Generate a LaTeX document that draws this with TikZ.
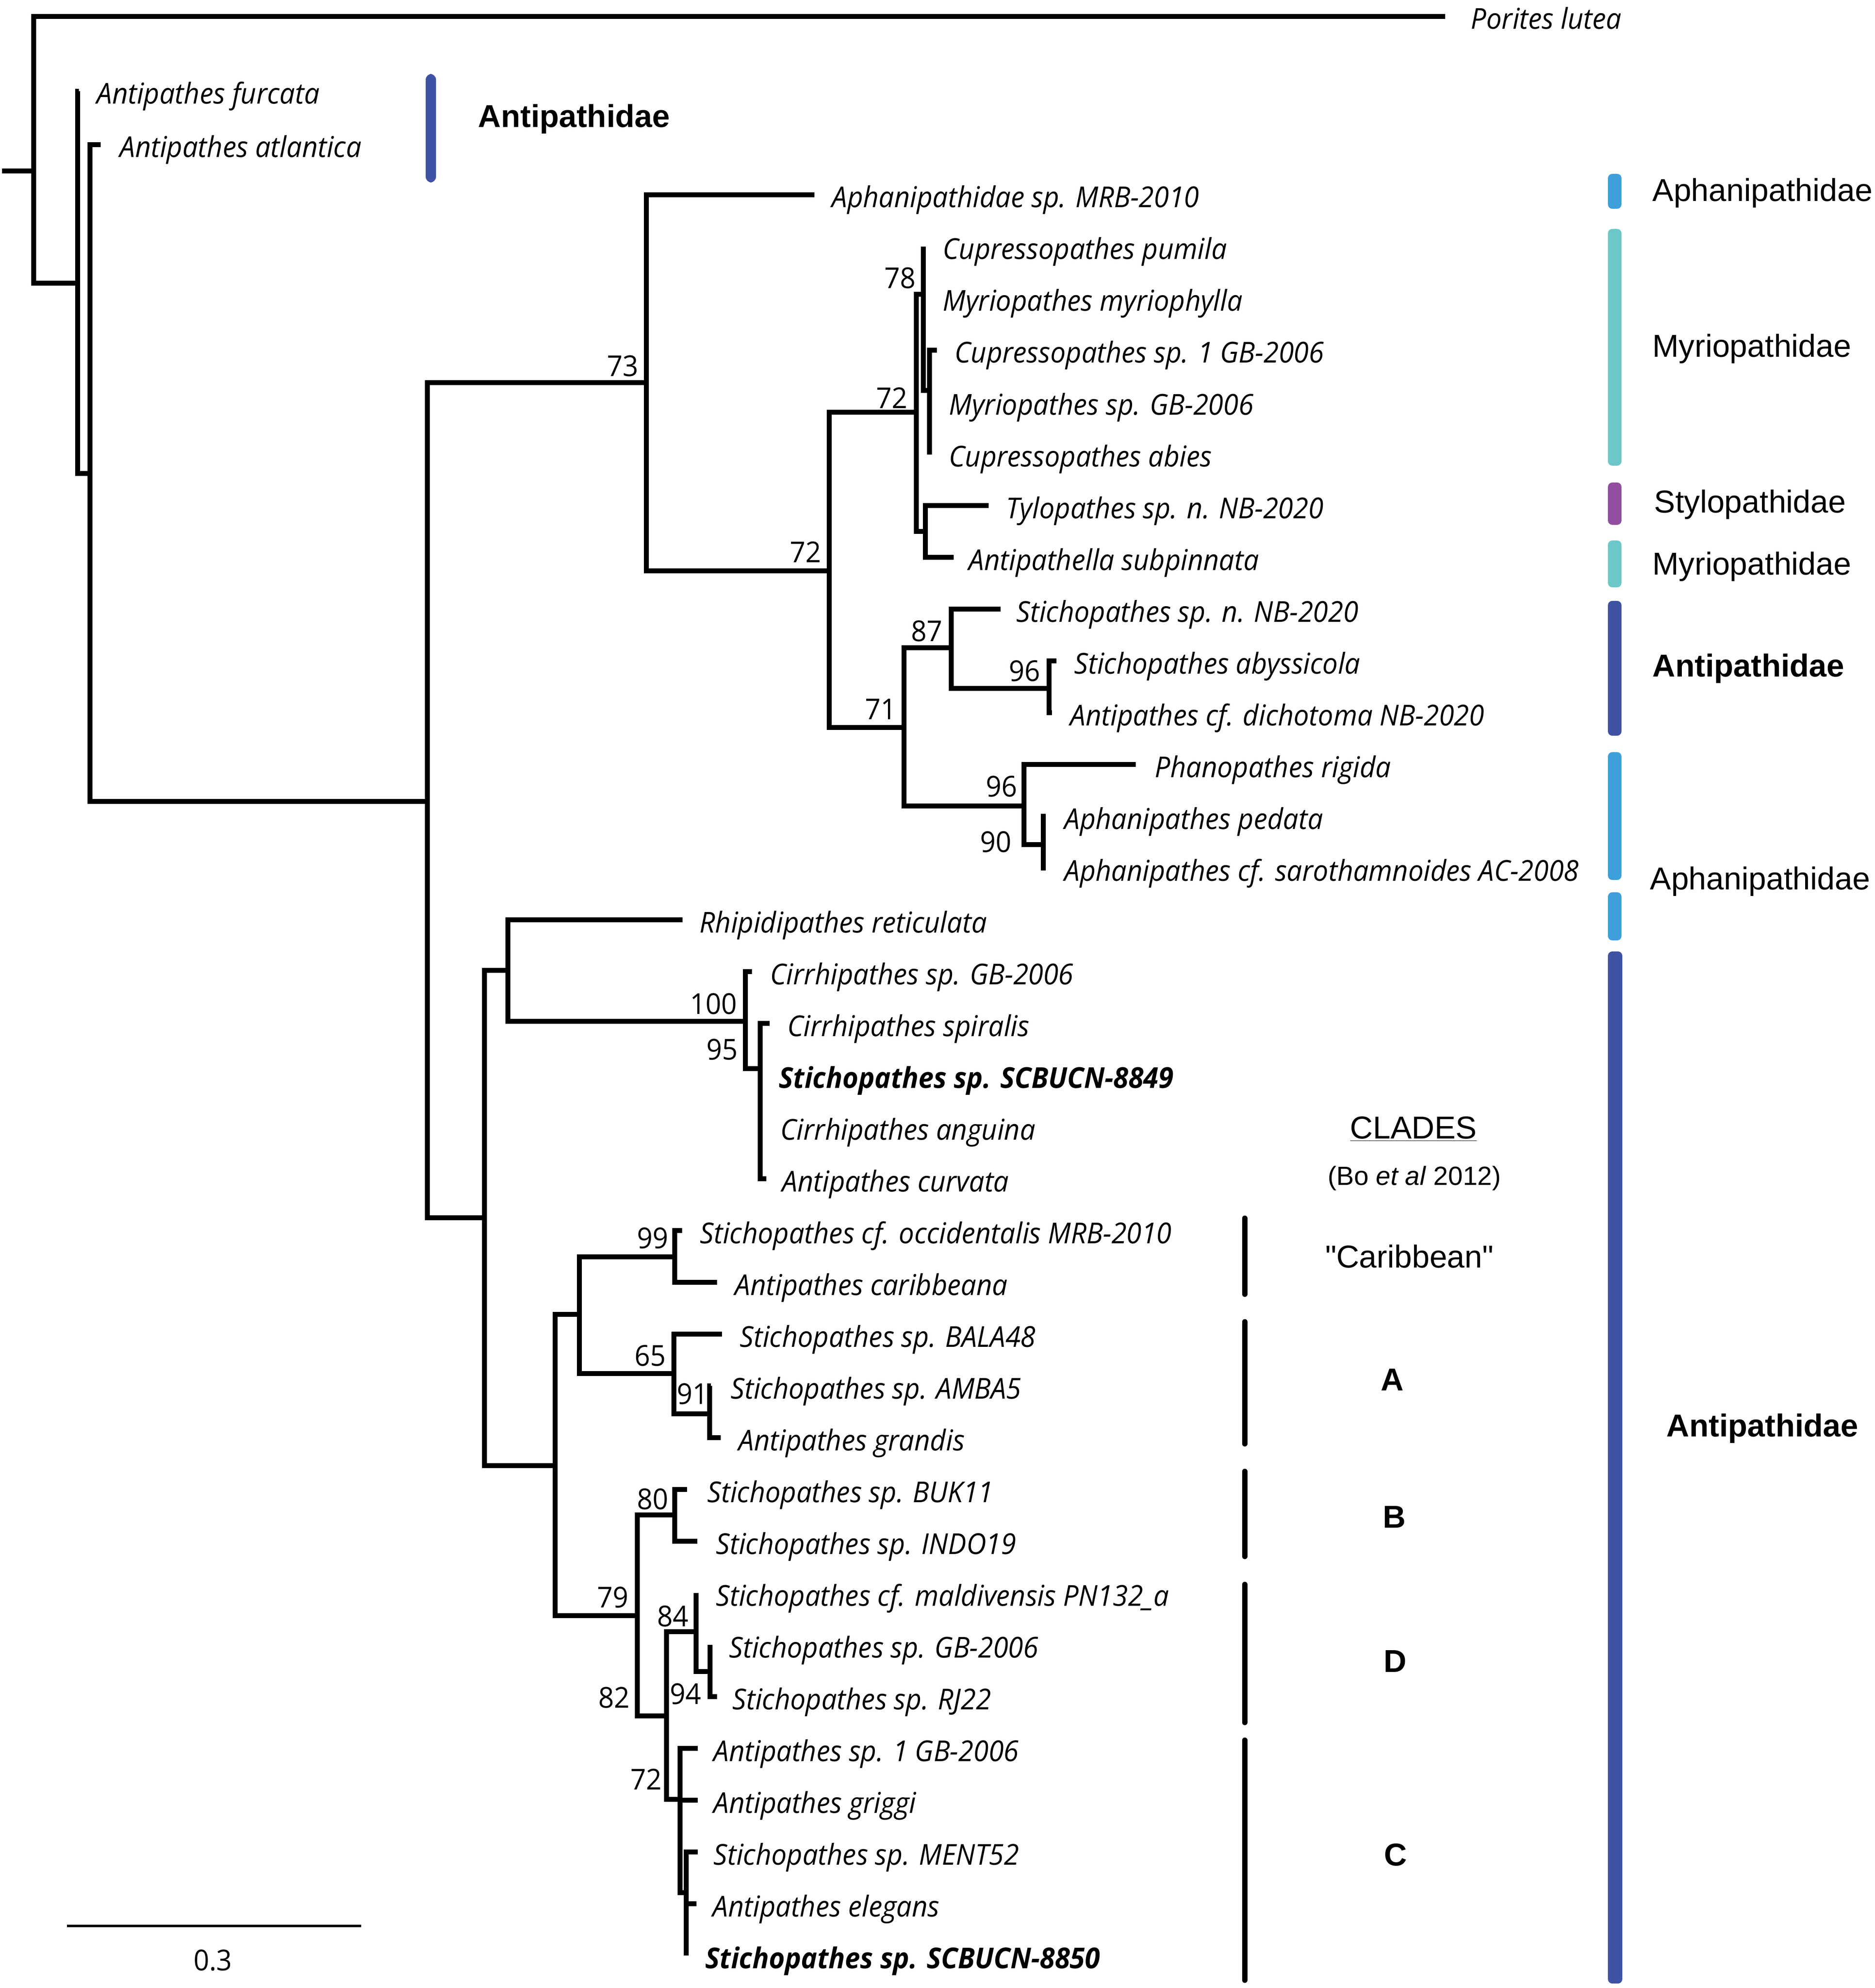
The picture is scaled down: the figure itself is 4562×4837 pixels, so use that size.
\documentclass[tikz,border=0pt]{standalone}
\usepackage{fontspec}
\setmainfont{Liberation Sans}
\newfontfamily\taxf[FakeStretch=0.95]{Open Sans}
\newfontfamily\qfont[Ligatures=TeXOff]{Liberation Sans}
\definecolor{dblue}{HTML}{3F52A3}
\definecolor{lblue}{HTML}{3E9FDA}
\definecolor{tealb}{HTML}{6CC8C8}
\definecolor{purp}{HTML}{914FA0}
\newcommand\el[2]{\draw[br] (#1) |- (#2);}
\tikzset{
  br/.style={line width=3.3pt, line join=miter},
  tx/.style={anchor=base west, inner sep=0pt, font=\taxf\itshape\fontsize{19.9}{22}\selectfont},
  txb/.style={anchor=base west, inner sep=0pt, font=\taxf\bfseries\itshape\fontsize{19.9}{22}\selectfont},
  bs/.style={anchor=east, inner sep=0pt, font=\taxf\fontsize{19.9}{22}\selectfont},
  fam/.style={anchor=base west, inner sep=0pt, font=\fontsize{21.9}{24}\selectfont},
  famb/.style={anchor=base west, inner sep=0pt, font=\bfseries\fontsize{21.9}{24}\selectfont},
  cl/.style={anchor=base, inner sep=0pt, font=\bfseries\fontsize{21.9}{24}\selectfont},
  clbar/.style={line width=3.7pt, line cap=round},
}
\begin{document}
\begin{tikzpicture}[x=0.01cm, y=-0.01cm]
\useasboundingbox (0,0) rectangle (4562,4837);
% ---------- internal nodes ----------
\coordinate (stub) at (5,416);
\coordinate (R) at (82,416);
\coordinate (N1) at (189,689);
\coordinate (N2) at (219,1152);
\coordinate (N3) at (1040,1950);
\coordinate (N4) at (1573,931);
\coordinate (N5) at (2018,1389);
\coordinate (N6) at (2230,1003);
\coordinate (N7) at (2247,716);
\coordinate (N9) at (2262,950);
\coordinate (N8) at (2252,1293);
\coordinate (N10) at (2200,1770);
\coordinate (N11) at (2315,1576);
\coordinate (N12) at (2553,1675);
\coordinate (N13) at (2492,1961);
\coordinate (N14) at (2539,2055);
\coordinate (N15) at (1179,2963);
\coordinate (N16) at (1236,2361);
\coordinate (N17) at (1814,2485);
\coordinate (N18) at (1850,2600);
\coordinate (N19) at (1351,3566);
\coordinate (N20) at (1410,3198);
\coordinate (N21) at (1642,3058);
\coordinate (N22) at (1640,3342);
\coordinate (N23) at (1727,3440);
\coordinate (N24) at (1551,3931);
\coordinate (N25) at (1642,3686);
\coordinate (N26) at (1622,4175);
\coordinate (N27) at (1694,3970);
\coordinate (N28) at (1728,4067);
\coordinate (N29) at (1655,4378);
\coordinate (N30) at (1670,4605);
% ---------- tips ----------
\coordinate (tPor) at (3517,40);
\coordinate (tFur) at (192,222);
\coordinate (tAtl) at (245,352);
\coordinate (tMRB) at (1982,474);
\coordinate (tPum) at (2247,600);
\coordinate (tMyr) at (2247,726);
\coordinate (tCs1) at (2280,852);
\coordinate (tMgb) at (2262,978);
\coordinate (tAbi) at (2262,1106);
\coordinate (tTyl) at (2406,1230);
\coordinate (tAsu) at (2321,1356);
\coordinate (tSnb) at (2435,1482);
\coordinate (tAby) at (2571,1608);
\coordinate (tDic) at (2560,1734);
\coordinate (tPha) at (2764,1860);
\coordinate (tPed) at (2545,1986);
\coordinate (tSar) at (2545,2112);
\coordinate (tRhi) at (1661,2238);
\coordinate (tCgb) at (1830,2364);
\coordinate (tSpi) at (1873,2490);
\coordinate (tS49) at (1850,2616);
\coordinate (tAng) at (1850,2742);
\coordinate (tCur) at (1865,2868);
\coordinate (tOcc) at (1660,2994);
\coordinate (tCar) at (1745,3120);
\coordinate (tBal) at (1757,3246);
\coordinate (tAmb) at (1730,3372);
\coordinate (tGra) at (1754,3498);
\coordinate (tBuk) at (1672,3624);
\coordinate (tInd) at (1697,3750);
\coordinate (tMal) at (1694,3876);
\coordinate (tSgb) at (1728,4002);
\coordinate (tRj) at (1745,4128);
\coordinate (tAgb) at (1698,4254);
\coordinate (tGri) at (1698,4380);
\coordinate (tMen) at (1698,4506);
\coordinate (tEle) at (1695,4632);
\coordinate (tS50) at (1670,4758);
% ---------- branches ----------
\draw[br] (stub) -- (R);
\el{R}{tPor} \el{R}{N1}
\el{N1}{tFur} \el{N1}{N2}
\el{N2}{tAtl} \el{N2}{N3}
\el{N3}{N4} \el{N3}{N15}
\el{N4}{tMRB} \el{N4}{N5}
\el{N5}{N6} \el{N5}{N10}
\el{N6}{N7} \el{N6}{N8}
\el{N7}{tPum} \el{N7}{tMyr} \el{N7}{N9}
\el{N9}{tCs1} \el{N9}{tMgb} \el{N9}{tAbi}
\el{N8}{tTyl} \el{N8}{tAsu}
\el{N10}{N11} \el{N10}{N13}
\el{N11}{tSnb} \el{N11}{N12}
\el{N12}{tAby} \el{N12}{tDic}
\el{N13}{tPha} \el{N13}{N14}
\el{N14}{tPed} \el{N14}{tSar}
\el{N15}{N16} \el{N15}{N19}
\el{N16}{tRhi} \el{N16}{N17}
\el{N17}{tCgb} \el{N17}{N18}
\el{N18}{tSpi} \el{N18}{tS49} \el{N18}{tAng} \el{N18}{tCur}
\el{N19}{N20} \el{N19}{N24}
\el{N20}{N21} \el{N20}{N22}
\el{N21}{tOcc} \el{N21}{tCar}
\el{N22}{tBal} \el{N22}{N23}
\el{N23}{tAmb} \el{N23}{tGra}
\el{N24}{N25} \el{N24}{N26}
\el{N25}{tBuk} \el{N25}{tInd}
\el{N26}{N27} \el{N26}{N29}
\el{N27}{tMal} \el{N27}{N28}
\el{N28}{tSgb} \el{N28}{tRj}
\el{N29}{tAgb} \el{N29}{tGri} \el{N29}{N30}
\el{N30}{tMen} \el{N30}{tEle} \el{N30}{tS50}
% ---------- taxon labels ----------
\node[tx] (lPor) at (3579,71) {Porites lutea};
\node[tx] (lFur) at (235,253) {Antipathes furcata};
\node[tx] (lAtl) at (291,383) {Antipathes atlantica};
\node[tx] (lMRB) at (2024,505) {Aphanipathidae sp. MRB-2010};
\node[tx] (lPum) at (2294,631) {Cupressopathes pumila};
\node[tx] (lMyr) at (2294,757) {Myriopathes myriophylla};
\node[tx] (lCs1) at (2323,883) {Cupressopathes sp. 1 GB-2006};
\node[tx] (lMgb) at (2309,1009) {Myriopathes sp. GB-2006};
\node[tx] (lAbi) at (2309,1135) {Cupressopathes abies};
\node[tx] (lTyl) at (2448,1261) {Tylopathes sp. n. NB-2020};
\node[tx] (lAsu) at (2357,1387) {Antipathella subpinnata};
\node[tx] (lSnb) at (2473,1513) {Stichopathes sp. n. NB-2020};
\node[tx] (lAby) at (2614,1639) {Stichopathes abyssicola};
\node[tx] (lDic) at (2604,1765) {Antipathes cf. dichotoma NB-2020};
\node[tx] (lPha) at (2810,1891) {Phanopathes rigida};
\node[tx] (lPed) at (2590,2017) {Aphanipathes pedata};
\node[tx] (lSar) at (2590,2143) {Aphanipathes cf. sarothamnoides AC-2008};
\node[tx] (lRhi) at (1702,2269) {Rhipidipathes reticulata};
\node[tx] (lCgb) at (1874,2395) {Cirrhipathes sp. GB-2006};
\node[tx] (lSpi) at (1916,2521) {Cirrhipathes spiralis};
\node[txb] (lS49) at (1895,2647) {Stichopathes sp. SCBUCN-8849};
\node[tx] (lAng) at (1899,2773) {Cirrhipathes anguina};
\node[tx] (lCur) at (1903,2899) {Antipathes curvata};
\node[tx] (lOcc) at (1703,3025) {Stichopathes cf. occidentalis MRB-2010};
\node[tx] (lCar) at (1788,3151) {Antipathes caribbeana};
\node[tx] (lBal) at (1800,3277) {Stichopathes sp. BALA48};
\node[tx] (lAmb) at (1778,3403) {Stichopathes sp. AMBA5};
\node[tx] (lGra) at (1797,3529) {Antipathes grandis};
\node[tx] (lBuk) at (1721,3655) {Stichopathes sp. BUK11};
\node[tx] (lInd) at (1742,3781) {Stichopathes sp. INDO19};
\node[tx] (lMal) at (1742,3907) {Stichopathes cf. maldivensis PN132\_a};
\node[tx] (lSgb) at (1774,4033) {Stichopathes sp. GB-2006};
\node[tx] (lRj) at (1782,4159) {Stichopathes sp. RJ22};
\node[tx] (lAgb) at (1736,4285) {Antipathes sp. 1 GB-2006};
\node[tx] (lGri) at (1736,4411) {Antipathes griggi};
\node[tx] (lMen) at (1736,4537) {Stichopathes sp. MENT52};
\node[tx] (lEle) at (1734,4663) {Antipathes elegans};
\node[txb] (lS50) at (1716,4789) {Stichopathes sp. SCBUCN-8850};
% ---------- support values ----------
\node[bs] (b73) at (1554,891) {73};
\node[bs] (b72a) at (2209,968) {72};
\node[bs] (b72b) at (1999,1343) {72};
\node[bs] (b78) at (2229,677) {78};
\node[bs] (b87) at (2294,1535) {87};
\node[bs] (b96a) at (2532,1632) {96};
\node[bs] (b71) at (2182,1726) {71};
\node[bs] (b96b) at (2476,1913) {96};
\node[bs] (b90) at (2462,2048) {90};
\node[bs] (b100) at (1794,2442) {100};
\node[bs] (b95) at (1796,2553) {95};
\node[bs] (b99) at (1627,3012) {99};
\node[bs] (b65) at (1621,3298) {65};
\node[bs] (b91) at (1724,3391) {91};
\node[bs] (b80) at (1627,3647) {80};
\node[bs] (b79) at (1530,3886) {79};
\node[bs] (b84) at (1676,3932) {84};
\node[bs] (b94) at (1707,4121) {94};
\node[bs] (b82) at (1533,4130) {82};
\node[bs] (b72c) at (1611,4329) {72};
% ---------- family bars ----------
\fill[dblue, rounded corners=4] (1036,180) rectangle (1061,444);
\fill[lblue, rounded corners=3] (3913,423) rectangle (3946,508);
\fill[tealb, rounded corners=3] (3913,557) rectangle (3946,1133);
\fill[purp, rounded corners=3] (3913,1174) rectangle (3946,1277);
\fill[tealb, rounded corners=3] (3913,1315) rectangle (3946,1429);
\fill[dblue, rounded corners=3] (3913,1462) rectangle (3946,1790);
\fill[lblue, rounded corners=3] (3913,1830) rectangle (3946,2141);
\fill[lblue, rounded corners=3] (3913,2171) rectangle (3946,2288);
\fill[dblue, rounded corners=3] (3913,2315) rectangle (3948,4826);
% ---------- family labels ----------
\node[famb] (fAnt0) at (1163,310) {Antipathidae};
\node[fam] (fAph1) at (4021,490) {Aphanipathidae};
\node[fam] (fMyr1) at (4021,869) {Myriopathidae};
\node[fam] (fSty) at (4025,1247) {Stylopathidae};
\node[fam] (fMyr2) at (4021,1398) {Myriopathidae};
\node[famb] (fAnt1) at (4021,1646) {Antipathidae};
\node[fam] (fAph2) at (4015,2164) {Aphanipathidae};
\node[famb] (fAnt2) at (4055,3495) {Antipathidae};
% ---------- clades ----------
\node[anchor=base, inner sep=0pt, font=\fontsize{21.9}{24}\selectfont] (cT) at (3440,2770) {\underline{CLADES}};
\node[anchor=base, inner sep=0pt, font=\fontsize{18.2}{20}\selectfont] (cR) at (3442,2883) {(Bo \textit{et al} 2012)};
\node[anchor=base, inner sep=0pt, font=\qfont\fontsize{21.9}{24}\selectfont] (cCar) at (3430,3084) {"Caribbean"};
\node[cl] (cA) at (3388,3383) {A};
\node[cl] (cB) at (3393,3717) {B};
\node[cl] (cD) at (3395,4068) {D};
\node[cl] (cC) at (3396,4539) {C};
\coordinate (k1a) at (3029,2964); \coordinate (k1b) at (3029,3149);
\coordinate (k2a) at (3029,3216); \coordinate (k2b) at (3029,3513);
\coordinate (k3a) at (3029,3580); \coordinate (k3b) at (3029,3787);
\coordinate (k4a) at (3029,3855); \coordinate (k4b) at (3029,4191);
\coordinate (k5a) at (3029,4234); \coordinate (k5b) at (3029,4818);
\draw[clbar] (k1a) -- (k1b);
\draw[clbar] (k2a) -- (k2b);
\draw[clbar] (k3a) -- (k3b);
\draw[clbar] (k4a) -- (k4b);
\draw[clbar] (k5a) -- (k5b);
% ---------- scale bar ----------
\coordinate (sb1) at (163,4686);
\coordinate (sb2) at (879,4686);
\draw[line width=1.7pt] (sb1) -- (sb2);
\node[anchor=base, inner sep=0pt, font=\taxf\fontsize{19.9}{22}\selectfont] (sbl) at (518,4794) {0.3};
\end{tikzpicture}
\end{document}
